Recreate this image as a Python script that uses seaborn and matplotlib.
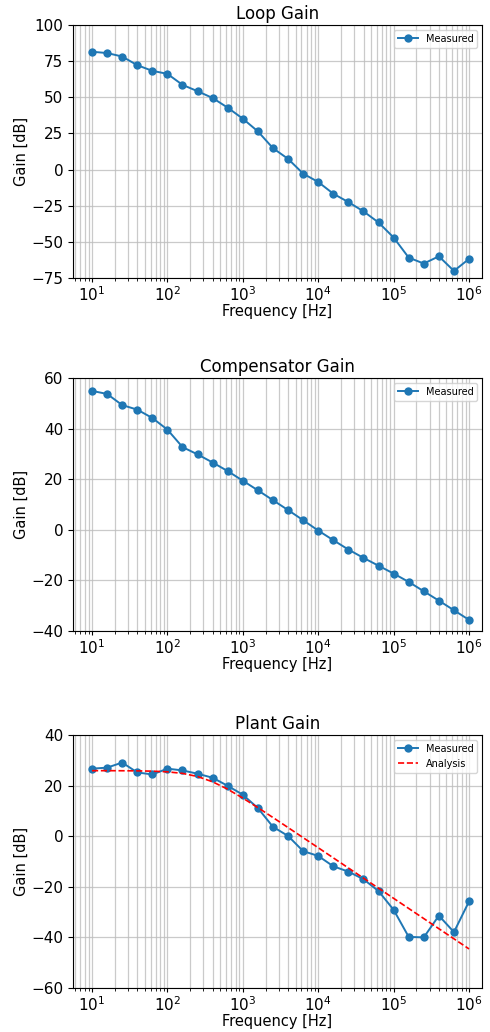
import numpy as np
import pandas as pd
import matplotlib
matplotlib.use("Agg")
import matplotlib.pyplot as plt
import seaborn as sns

freq = [10, 15.85, 25.12, 39.81, 63.1, 100, 158.5, 251.2, 398.1, 631, 1000,
        1585, 2512, 3981, 6310, 1e4, 1.585e4, 2.512e4, 3.981e4, 6.31e4, 1e5,
        1.585e5, 2.512e5, 3.981e5, 6.31e5, 1e6]

loop_gain = [81.5, 80.6, 78.2, 72.2, 68.3, 66.2, 58.6, 54.2, 49.5, 42.8, 35.2,
             26.4, 14.8, 7.4, -2.8, -8.6, -16.7, -22.5, -28.9, -36.6, -47.0,
             -60.9, -65.0, -60.0, -70.1, -61.8]

comp_gain = [54.9, 53.7, 49.3, 47.5, 44.2, 39.6, 32.7, 29.8, 26.6, 23.2, 19.4,
             15.6, 11.7, 7.8, 3.8, -0.3, -4.1, -7.8, -11.1, -14.2, -17.3,
             -20.6, -24.3, -28.0, -31.8, -35.6]

plant_meas = [26.7, 27.1, 29.1, 25.2, 24.4, 26.7, 26.0, 24.7, 23.1, 19.9, 16.4,
              11.1, 3.7, 0.1, -5.9, -7.8, -11.9, -14.0, -17.0, -21.7, -29.1,
              -39.8, -40.0, -31.4, -37.9, -25.8]

plant_analysis = [25.9, 25.9, 25.87, 25.82, 25.71, 25.44, 24.83, 23.59, 21.49,
                  18.56, 15.07, 11.29, 7.38, 3.42, -0.57, -4.56, -8.56, -12.56,
                  -16.56, -20.56, -24.56, -28.56, -32.56, -36.56, -40.56, -44.56]

titles = ["Loop Gain", "Compensator Gain", "Plant Gain"]
ylims = [(-75, 100), (-40, 60), (-60, 40)]

fig = plt.figure(figsize=(4.9, 10.32), dpi=100)
boxes = [(73, 25, 482, 278), (73, 378, 482, 631), (73, 735, 482, 988)]
W, H = 490, 1032
axes = []
for (l, t, r, b) in boxes:
    axes.append(fig.add_axes([l / W, 1 - b / H, (r - l) / W, (b - t) / H]))

blue = "#1f77b4"
series = [loop_gain, comp_gain, plant_meas]
for i, ax in enumerate(axes):
    df = pd.DataFrame({"f": freq, "g": series[i]})
    sns.lineplot(data=df, x="f", y="g", marker="o", markersize=6,
                 markeredgewidth=0, color=blue, linewidth=1.4,
                 label="Measured", ax=ax)
    if i == 2:
        dfa = pd.DataFrame({"f": freq, "g": plant_analysis})
        sns.lineplot(data=dfa, x="f", y="g", color="red", linestyle="--",
                     linewidth=1.2, label="Analysis", ax=ax)
    ax.set_xscale("log")
    ax.set_xlim(10 ** 0.748, 10 ** 6.172)
    ax.set_ylim(*ylims[i])
    ax.grid(True, which="both", color="#bdbdbd", linewidth=0.9, alpha=0.8)
    ax.set_axisbelow(True)
    ax.set_title(titles[i], fontsize=12, pad=4)
    ax.set_xlabel("Frequency [Hz]", fontsize=10.5, labelpad=0)
    ax.set_ylabel("Gain [dB]", fontsize=10.5, labelpad=2)
    ax.tick_params(labelsize=11)
    ax.tick_params(axis="x", which="both", pad=2, length=3)
    ax.tick_params(axis="x", which="minor", length=2)
    ax.legend(loc="upper right", fontsize=7, framealpha=0.8)

fig.savefig("out.png", dpi=100)
